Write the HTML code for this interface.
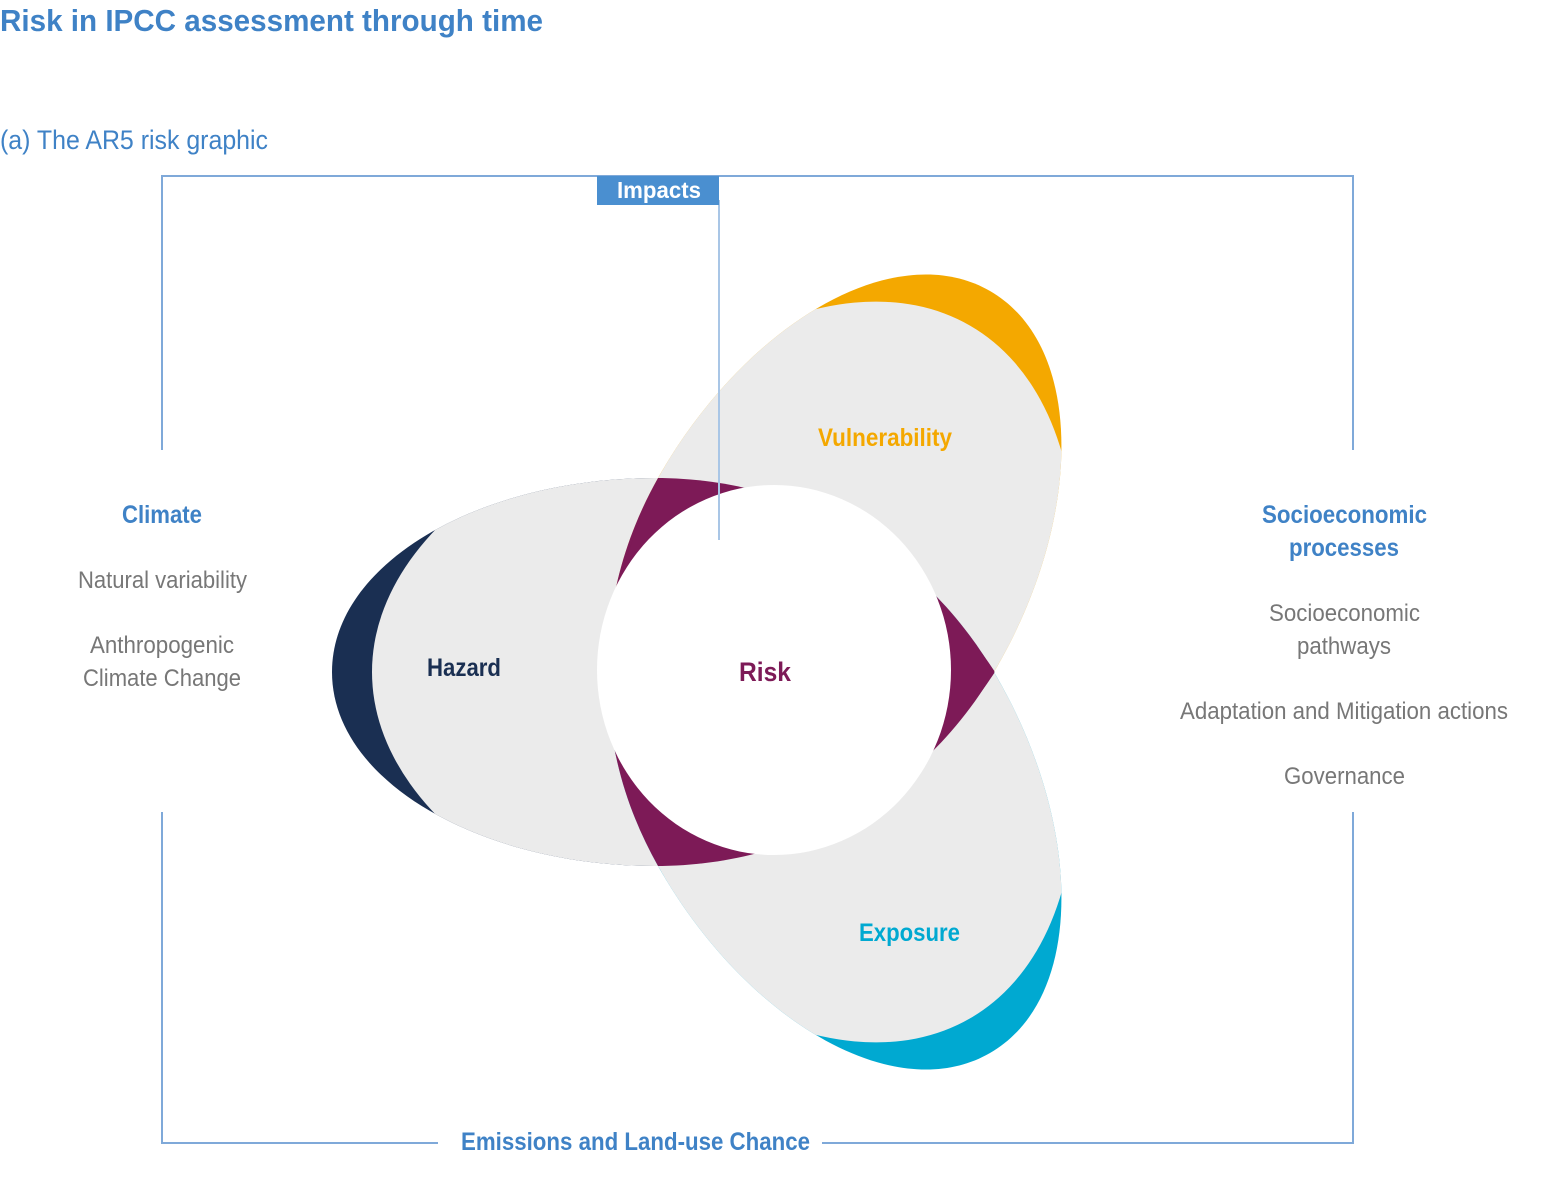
<!DOCTYPE html>
<html><head><meta charset="utf-8"><style>
html,body{margin:0;padding:0;background:#fff;overflow:hidden;width:1552px;height:1187px;}
svg{display:block;}
text{font-family:"Liberation Sans",sans-serif;}
</style></head><body>
<svg width="1552" height="1187" viewBox="0 0 1552 1187" xmlns="http://www.w3.org/2000/svg">
<defs>
  <path id="pet" d="M223 0 C150 -110 40 -194 -117 -194 C-290 -194 -440 -110 -440 0 C-440 110 -290 194 -117 194 C40 194 150 110 223 0 Z"/>
  <clipPath id="cPet"><use href="#pet"/></clipPath>
  <clipPath id="cH"><use href="#pet" transform="translate(772,672)"/></clipPath>
  <clipPath id="cV"><use href="#pet" transform="translate(770,672) rotate(120)"/></clipPath>
</defs>
<text x="0" y="31" font-size="31" font-weight="bold" fill="#3f82c6" textLength="543" lengthAdjust="spacingAndGlyphs">Risk in IPCC assessment through time</text>
<text x="0" y="149" font-size="27" fill="#3f82c6" textLength="268" lengthAdjust="spacingAndGlyphs">(a) The AR5 risk graphic</text>

<g stroke="#7fa9d9" stroke-width="2" fill="none">
  <polyline points="162,450 162,176 1353,176 1353,450"/>
  <polyline points="162,812 162,1143 438,1143"/>
  <polyline points="822,1143 1353,1143 1353,812"/>
</g>

<g transform="translate(772,672)">
  <use href="#pet" fill="#1a2f52"/>
  <ellipse cx="100" cy="0" rx="500" ry="292" fill="#ebebeb" clip-path="url(#cPet)"/>
</g>
<g transform="translate(770,672) rotate(120)">
  <use href="#pet" fill="#f4a800"/>
  <ellipse cx="100" cy="0" rx="500" ry="292" fill="#ebebeb" clip-path="url(#cPet)"/>
</g>
<g transform="translate(770,672) rotate(-120)">
  <use href="#pet" fill="#00a9d1"/>
  <ellipse cx="100" cy="0" rx="500" ry="292" fill="#ebebeb" clip-path="url(#cPet)"/>
</g>
<g clip-path="url(#cH)"><use href="#pet" transform="translate(770,672) rotate(120)" fill="#7d1a57"/></g>
<g clip-path="url(#cH)"><use href="#pet" transform="translate(770,672) rotate(-120)" fill="#7d1a57"/></g>
<g clip-path="url(#cV)"><use href="#pet" transform="translate(770,672) rotate(-120)" fill="#7d1a57"/></g>
<ellipse cx="774" cy="670" rx="177" ry="185" fill="#fff"/>

<line x1="719" y1="200" x2="719" y2="540" stroke="#a9c6e6" stroke-width="2"/>
<rect x="597" y="176" width="122" height="29" fill="#4a8fd0"/>
<text x="617" y="198" font-size="23" font-weight="bold" fill="#fff" textLength="84" lengthAdjust="spacingAndGlyphs">Impacts</text>

<text x="818" y="446" font-size="25" font-weight="bold" fill="#f4a800" textLength="134" lengthAdjust="spacingAndGlyphs">Vulnerability</text>
<text x="427" y="676" font-size="25" font-weight="bold" fill="#1a2f52" textLength="74" lengthAdjust="spacingAndGlyphs">Hazard</text>
<text x="739" y="681" font-size="27" font-weight="bold" fill="#7d1a57" textLength="52" lengthAdjust="spacingAndGlyphs">Risk</text>
<text x="859" y="941" font-size="25" font-weight="bold" fill="#00a9d1" textLength="101" lengthAdjust="spacingAndGlyphs">Exposure</text>

<text x="122" y="523" font-size="25" font-weight="bold" fill="#3f82c6" textLength="80" lengthAdjust="spacingAndGlyphs">Climate</text>
<g font-size="24" fill="#777">
<text x="78" y="588" textLength="169" lengthAdjust="spacingAndGlyphs">Natural variability</text>
<text x="90" y="653" textLength="144" lengthAdjust="spacingAndGlyphs">Anthropogenic</text>
<text x="83" y="686" textLength="158" lengthAdjust="spacingAndGlyphs">Climate Change</text>
<text x="1269" y="621" textLength="151" lengthAdjust="spacingAndGlyphs">Socioeconomic</text>
<text x="1297" y="654" textLength="94" lengthAdjust="spacingAndGlyphs">pathways</text>
<text x="1180" y="719" textLength="328" lengthAdjust="spacingAndGlyphs">Adaptation and Mitigation actions</text>
<text x="1284" y="784" textLength="121" lengthAdjust="spacingAndGlyphs">Governance</text>
</g>
<g font-size="25" font-weight="bold" fill="#3f82c6">
<text x="1262" y="523" textLength="165" lengthAdjust="spacingAndGlyphs">Socioeconomic</text>
<text x="1289" y="556" textLength="110" lengthAdjust="spacingAndGlyphs">processes</text>
<text x="461" y="1150" textLength="349" lengthAdjust="spacingAndGlyphs">Emissions and Land-use Chance</text>
</g>
</svg>
</body></html>
